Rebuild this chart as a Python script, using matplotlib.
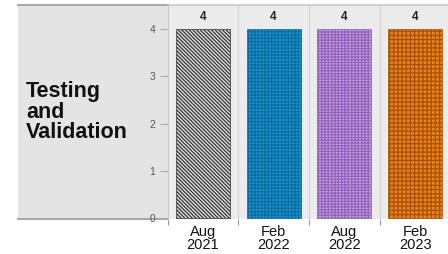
import matplotlib
matplotlib.use('Agg')
import matplotlib.pyplot as plt

# data
periods = ['Aug\n2021', 'Feb\n2022', 'Aug\n2022', 'Feb\n2023']
counts = [4, 4, 4, 4]
face_cols = ['#e0e0e0', '#1b93cf', '#c9a3e6', '#e8821e']
hatch_cols = ['#333333', '#0b6d9e', '#9064b8', '#a85008']
hatches = ['\\\\\\\\\\\\\\\\\\', '+++++', '|||||------', '++++']
row_label = 'Testing\nand\nValidation'

plt.rcParams['font.family'] = ['Liberation Sans', 'DejaVu Sans']
plt.rcParams['hatch.linewidth'] = 0.9

fig = plt.figure(figsize=(4.48, 2.54), dpi=100)
W, H = 448, 254
top_px, bot_px = 5, 219

# left strip with the row label
strip = fig.add_axes([18 / W, (H - bot_px) / H, (167.5 - 18) / W, (bot_px - top_px) / H])
strip.set_facecolor('#e4e4e4')
strip.set_xticks([])
strip.set_yticks([])
for s in ['left', 'right']:
    strip.spines[s].set_visible(False)
for s in ['top', 'bottom']:
    strip.spines[s].set_color('#a9a9a9')
    strip.spines[s].set_linewidth(1.5)
strip.text(0.054, 0.5, row_label, transform=strip.transAxes, ha='left', va='center',
           fontsize=15.5, fontweight='bold', color='#111111', linespacing=0.98)

# main panel
ax = fig.add_axes([167.5 / W, (H - bot_px) / H, 283 / W, (bot_px - top_px) / H])
ax.set_facecolor('#ebebeb')
x = list(range(len(periods)))
for i in x:
    ax.bar(i, counts[i], width=0.76, color=face_cols[i], edgecolor=hatch_cols[i],
           hatch=hatches[i], linewidth=0.5, zorder=3)
    ax.text(i, counts[i] + 0.25, str(counts[i]), ha='center', va='center',
            fontsize=8.5, fontweight='bold', color='#222222')

ax.set_xlim(-0.5, 3.5)
ax.set_ylim(-0.02, 4.51)
ax.set_xticks(x)
ax.set_xticklabels(periods, fontsize=10.5, color='#111111', linespacing=0.92)
ax.set_xticks([-0.5, 0.5, 1.5, 2.5], minor=True)
ax.tick_params(axis='x', which='major', length=0, pad=4)
ax.tick_params(axis='x', which='minor', length=4, color='#9a9a9a', width=0.8)
ax.grid(axis='x', which='minor', color='#d4d4d4', linewidth=0.8, zorder=0)
ax.set_yticks([0, 1, 2, 3, 4])
ax.tick_params(axis='y', length=6, pad=3, color='#b0b0b0', labelsize=7.5, labelcolor='#555555')
for s in ['right', 'bottom']:
    ax.spines[s].set_visible(False)
ax.spines['top'].set_color('#c8c8c8')
ax.spines['top'].set_linewidth(1.2)
ax.spines['left'].set_color('#c8c8c8')
ax.spines['left'].set_linewidth(0.8)

fig.savefig('out.png', dpi=100)
